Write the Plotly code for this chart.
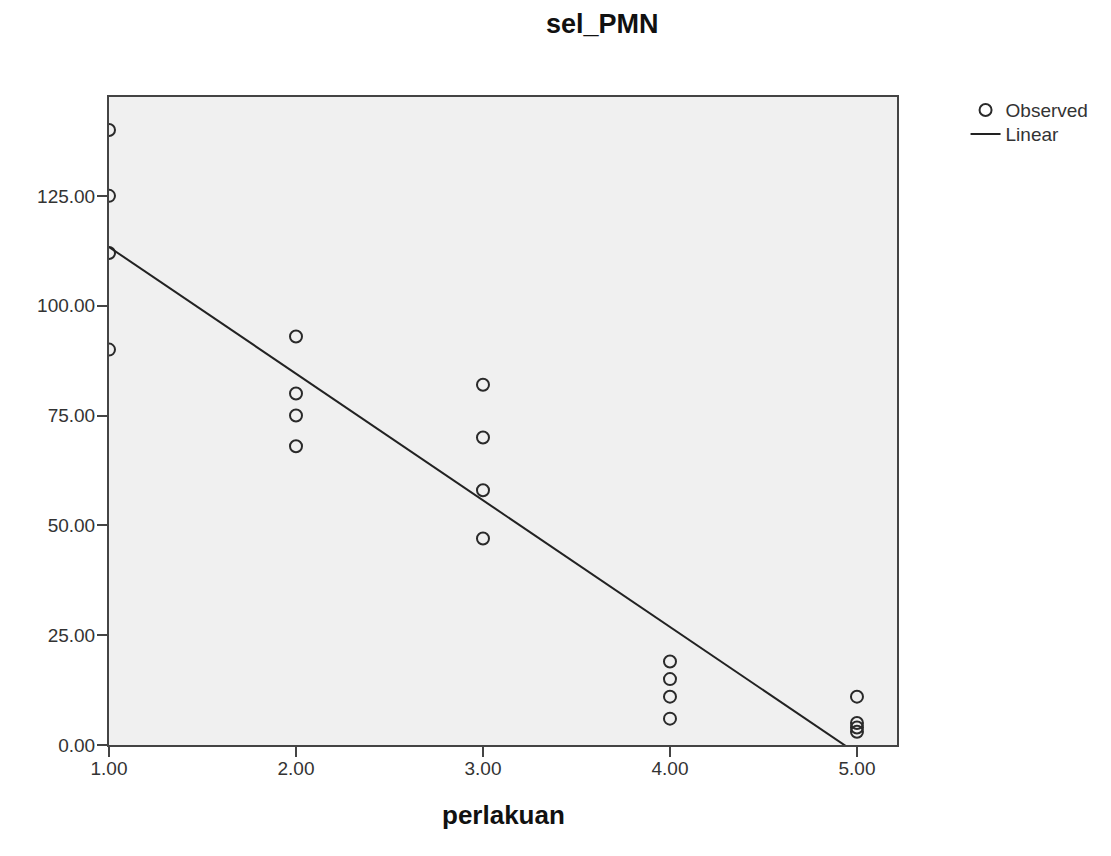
import numpy as np
import plotly.graph_objects as go

perlakuan = [1, 1, 1, 1, 2, 2, 2, 2, 3, 3, 3, 3, 4, 4, 4, 4, 5, 5, 5, 5]
sel_pmn = [140, 125, 112, 90, 93, 80, 75, 68, 82, 70, 58, 47, 19, 15, 11, 6, 11, 5, 4, 3]
x_ticks = [1, 2, 3, 4, 5]
x_tick_labels = ["1.00", "2.00", "3.00", "4.00", "5.00"]
y_ticks = [0, 25, 50, 75, 100, 125]
y_tick_labels = ["0.00", "25.00", "50.00", "75.00", "100.00", "125.00"]

slope, intercept = np.polyfit(perlakuan, sel_pmn, 1)
line_x = [min(perlakuan), max(perlakuan)]
line_y = [intercept + slope * v for v in line_x]

FONT = "Arial, Liberation Sans, sans-serif"
legend_font = dict(family=FONT, size=19, color="#333333")

fig = go.Figure()
fig.add_trace(go.Scatter(
    x=perlakuan, y=sel_pmn, mode="markers", name="Observed",
    marker=dict(symbol="circle-open", size=12, color="#2a2a2a", line=dict(width=2, color="#2a2a2a")),
    cliponaxis=True, legend="legend",
))
fig.add_trace(go.Scatter(
    x=line_x, y=line_y, mode="lines", name="Linear",
    line=dict(color="#222222", width=2),
    cliponaxis=True, legend="legend2",
))

axis_font = dict(family=FONT, size=19, color="#333333")
fig.update_layout(
    width=1111, height=856,
    margin=dict(l=101, r=222, t=89, b=119),
    paper_bgcolor="white", plot_bgcolor="#f0f0f0",
    showlegend=True,
    legend=dict(x=1.087, y=1.009, xanchor="left", yanchor="top", font=legend_font,
                bgcolor="rgba(0,0,0,0)", itemwidth=30),
    legend2=dict(x=1.087, y=0.972, xanchor="left", yanchor="top", font=legend_font,
                 bgcolor="rgba(0,0,0,0)", itemwidth=30),
    annotations=[
        dict(text="<b>sel_PMN</b>", x=0.626, y=1.0, xref="paper", yref="paper",
             yshift=73, xanchor="center", yanchor="middle", showarrow=False,
             font=dict(family=FONT, size=27, color="#111111")),
        dict(text="<b>perlakuan</b>", x=0.5, y=0.0, xref="paper", yref="paper",
             yshift=-70, xanchor="center", yanchor="middle", showarrow=False,
             font=dict(family=FONT, size=26, color="#111111")),
    ],
)
fig.update_xaxes(
    range=[1, 5.214], tickvals=x_ticks, ticktext=x_tick_labels,
    showgrid=False, zeroline=False, showline=True, linecolor="#444444", linewidth=2, mirror=True,
    ticks="outside", ticklen=10, tickcolor="#444444", tickwidth=2, tickfont=axis_font,
    ticklabelstandoff=-5,
)
fig.update_yaxes(
    range=[0, 147.5], tickvals=y_ticks, ticktext=y_tick_labels,
    showgrid=False, zeroline=False, showline=True, linecolor="#444444", linewidth=2, mirror=True,
    ticks="outside", ticklen=10, tickcolor="#444444", tickwidth=2, tickfont=axis_font,
    ticklabelstandoff=-2,
)
fig.write_html("out.html")
